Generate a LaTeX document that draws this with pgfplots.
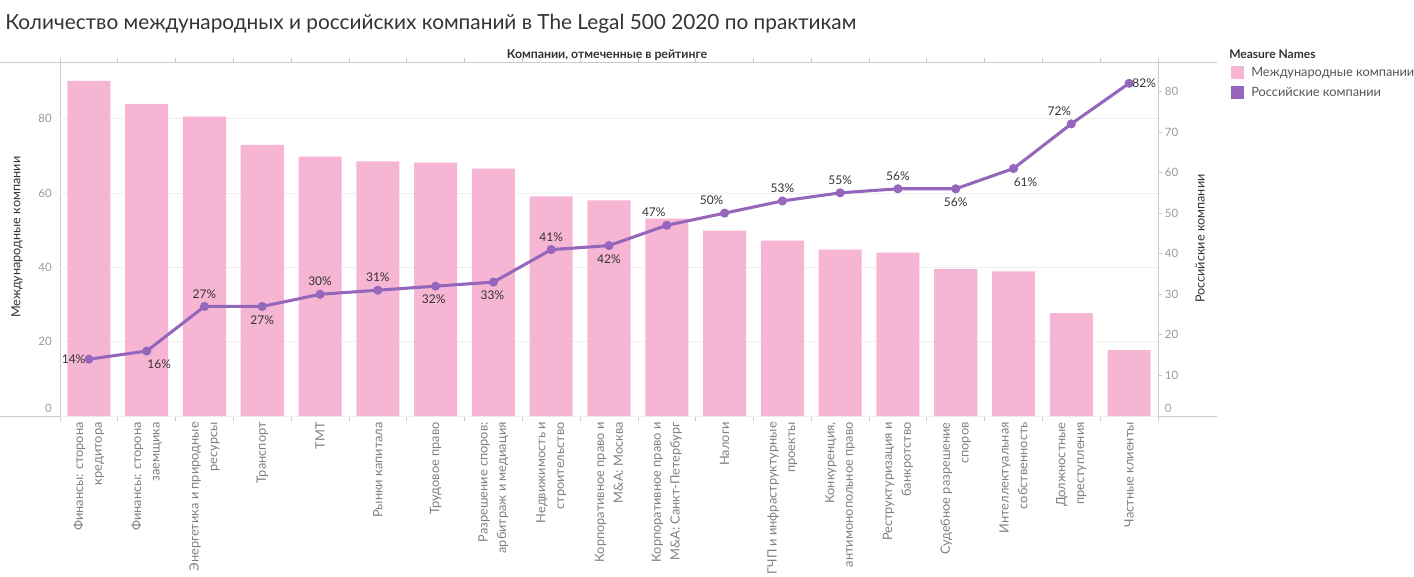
\documentclass[border=0pt]{standalone}
\usepackage{pgfplots}
\pgfplotsset{compat=1.18}
\usepackage{pgfplotstable}
\usepackage{fontspec}
\setmainfont{Lato}
\definecolor{pinkbar}{HTML}{F6B5D2}
\definecolor{purpline}{HTML}{9467BD}
\definecolor{axgray}{HTML}{CBCBCB}
\definecolor{gridgray}{HTML}{EFEFEF}
\definecolor{ticklab}{HTML}{9A9A9A}
\definecolor{xlab}{HTML}{7F7F7F}
\definecolor{darktxt}{HTML}{333333}
\definecolor{legtxt}{HTML}{555555}

\pgfplotstableread{
x  y
0  90.2
1  84.0
2  80.6
3  73.0
4  69.8
5  68.5
6  68.2
7  66.6
8  59.1
9  58.0
10 53.1
11 49.9
12 47.2
13 44.8
14 44.0
15 39.5
16 38.9
17 27.7
18 17.7
}\intdata

\pgfplotstableread{
x  y  dx    dy
0  14 -11.5 0
1  16 9.4  -10
2  27 0     9.5
3  27 0    -10
4  30 0     9.5
5  31 0     9.5
6  32 -1.5 -10
7  33 -0.8 -10
8  41 0     9.5
9  42 0    -10
10 47 -9.75 9.5
11 50 -9.75 9.5
12 53 0     9.5
13 55 0     9.5
14 56 0     9.5
15 56 0    -10
16 61 9    -10
17 72 -9    9.5
18 82 11.25 0
}\rusdata

\begin{document}
\begin{tikzpicture}
\path[use as bounding box] (0,0) rectangle (1060.5pt,-432.75pt);
% frame lines
\draw[axgray, line width=0.75pt] (0,-47.25pt) -- (912.75pt,-47.25pt);
\draw[axgray, line width=0.75pt] (0,-312pt) -- (912.75pt,-312pt);
\draw[axgray, line width=0.75pt] (45pt,-47.25pt) -- (45pt,-316pt);
\draw[axgray, line width=0.75pt] (868.5pt,-47.25pt) -- (868.5pt,-312pt);
% titles
\node[anchor=base west, inner sep=0pt, text=darktxt, font=\fontsize{15.6}{18}\selectfont] at (3.75pt,-22.5pt) {Количество международных и российских компаний в The Legal 500 2020 по практикам};
\node[anchor=base, inner sep=0pt, text=darktxt, font=\bfseries\fontsize{9.2}{11}\selectfont] at (455.25pt,-43.6pt) {Компании, отмеченные в рейтинге};
\node[rotate=90, inner sep=0pt, text=darktxt, font=\fontsize{9.5}{11}\selectfont] at (12.75pt,-178pt) {Международные компании};
\node[rotate=90, inner sep=0pt, text=darktxt, font=\fontsize{9.5}{11}\selectfont] at (900pt,-179pt) {Российские компании};
\node[anchor=base west, inner sep=0pt, text=darktxt, font=\bfseries\fontsize{9}{11}\selectfont] at (921.75pt,-43.7pt) {Measure Names};

\begin{axis}[
  at={(45pt,-312pt)}, anchor=south west,
  scale only axis, width=823.5pt, height=264.75pt,
  xmin=-0.5, xmax=18.5, ymin=0, ymax=95,
  axis line style={draw=none},
  ytick={20,40,60,80},
  extra y ticks={0},
  extra y tick style={yticklabel style={yshift=6pt}},
  ymajorgrids, grid style={gridgray, line width=0.75pt},
  major tick length=0pt,
  yticklabel style={font=\fontsize{8.6}{10}\selectfont, text=ticklab, inner sep=0pt, xshift=-6pt},
  xtick={0,...,18},
  xticklabels={
    {Финансы: сторона\\кредитора},
    {Финансы: сторона\\заемщика},
    {Энергетика и природные\\ресурсы},
    {Транспорт},
    {ТМТ},
    {Рынки капитала},
    {Трудовое право},
    {Разрешение споров:\\арбитраж и медиация},
    {Недвижимость и\\строительство},
    {Корпоративное право и\\M\&A: Москва},
    {Корпоративное право и\\M\&A: Санкт-Петербург},
    {Налоги},
    {ГЧП и инфраструктурные\\проекты},
    {Конкуренция,\\антимонопольное право},
    {Реструктуризация и\\банкротство},
    {Судебное разрешение\\споров},
    {Интеллектуальная\\собственность},
    {Должностные\\преступления},
    {Частные клиенты}},
  xticklabel style={rotate=90, anchor=east, align=right, inner sep=0pt, font=\fontsize{9.6}{14}\selectfont, text=xlab},
  xticklabel shift=4.5pt,
  extra x ticks={-0.5,0.5,1.5,2.5,3.5,4.5,5.5,6.5,7.5,8.5,9.5,10.5,11.5,12.5,13.5,14.5,15.5,16.5,17.5,18.5},
  extra x tick labels={},
  extra x tick style={tick align=outside, major tick length=4pt, tick style={axgray, line width=0.6pt}, grid=none},
  /pgf/number format/assume math mode=true,
  clip=false,
]
\addplot[ybar, bar width=0.745, fill=pinkbar, draw=none] table[x=x,y=y]{\intdata};
\end{axis}

\begin{axis}[
  at={(45pt,-312pt)}, anchor=south west,
  scale only axis, width=823.5pt, height=264.75pt,
  xmin=-0.5, xmax=18.5, ymin=0, ymax=87,
  axis y line*=right, axis x line=none,
  axis line style={draw=none},
  ytick={10,20,...,80},
  extra y ticks={0},
  extra y tick style={yticklabel style={yshift=6pt}},
  tick align=outside, major tick length=3pt, tick style={axgray, line width=0.6pt},
  yticklabel style={font=\fontsize{8.6}{10}\selectfont, text=ticklab, inner sep=0pt, xshift=2pt},
  /pgf/number format/assume math mode=true,
  clip=false,
  legend style={at={(axis description cs:1.0665,0.9924)}, anchor=north west, draw=none, fill=none,
    inner sep=0pt, row sep=5pt, column sep=5.25pt, font=\fontsize{9.6}{11}\selectfont, text=legtxt,
    nodes={inner sep=0pt, anchor=west}},
  legend cell align=left,
  legend image code/.code={\fill[#1] (0pt,-5pt) rectangle (9.75pt,5pt);},
]
\addlegendimage{fill=pinkbar, draw=none}
\addlegendentry{Международные компании}
\addlegendimage{fill=purpline, draw=none}
\addlegendentry{Российские компании}
\addplot[purpline, line width=2.3pt, mark=*, mark size=2.2pt, mark options={draw=none, fill=purpline},
  forget plot,
  point meta=y,
  visualization depends on={\thisrow{dx} \as \ldx},
  visualization depends on={\thisrow{dy} \as \ldy},
  nodes near coords={\pgfmathprintnumber[fixed,precision=0]{\pgfplotspointmeta}\%},
  every node near coord/.append style={anchor=center, xshift=\ldx pt, yshift=\ldy pt, inner sep=0pt,
    font=\fontsize{9}{10}\selectfont, text=darktxt},
] table[x=x,y=y]{\rusdata};
\end{axis}
\end{tikzpicture}
\end{document}
